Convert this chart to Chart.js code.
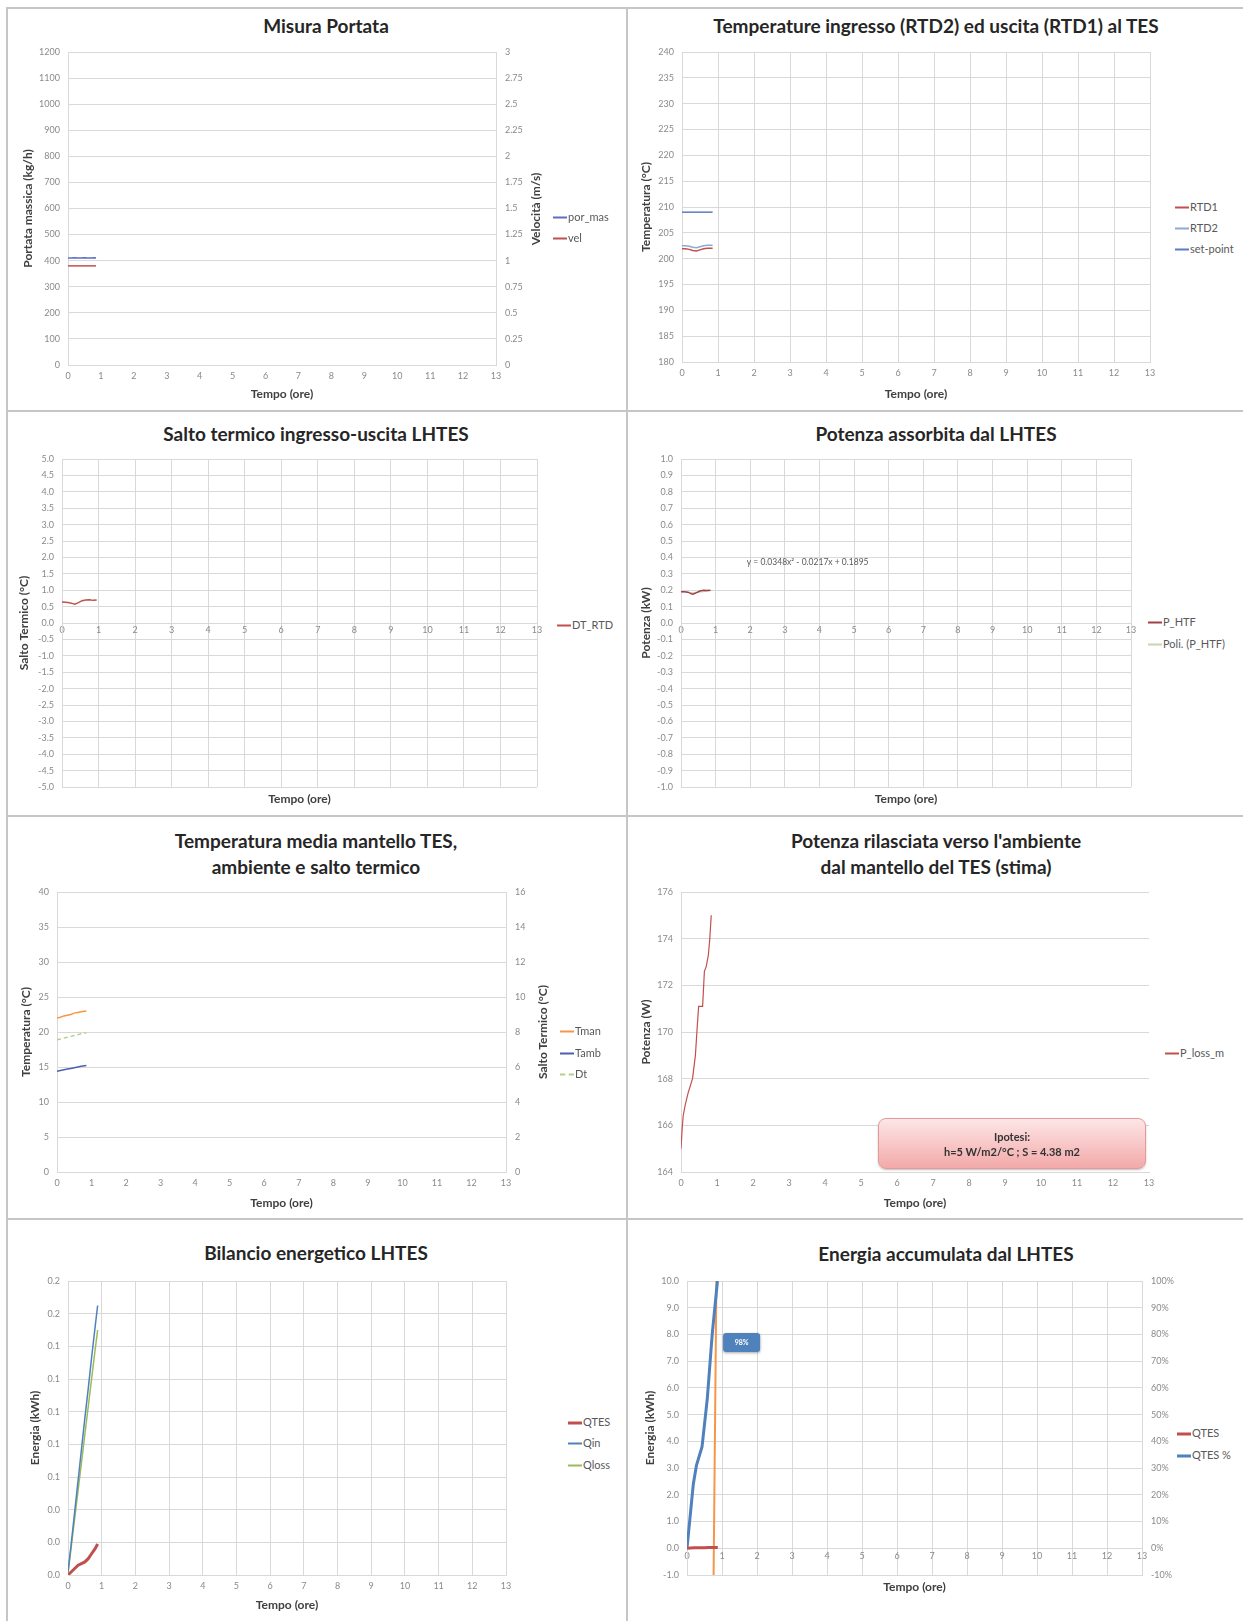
<!DOCTYPE html>
<html>
<head>
<meta charset="utf-8">
<script src="https://cdn.jsdelivr.net/npm/chart.js@4.4.1/dist/chart.umd.min.js"></script>
<style>
body { margin: 0; width: 1243px; height: 1621px; background: #fff; position: relative; overflow: hidden; font-family: Lato, "Liberation Sans", sans-serif; }
canvas { position: absolute; }
.t { position: absolute; transform: translate(-50%, -50%); font-weight: bold; font-size: 19px; color: #262626; white-space: nowrap; text-align: center; line-height: 26px; }
.leg { position: absolute; font-size: 11px; color: #595959; white-space: nowrap; line-height: 13px; transform: translateY(-50%); }
.leg i { display: inline-block; width: 14px; height: 0; vertical-align: middle; margin-right: 1px; }
.rt { position: absolute; font-size: 12px; font-weight: bold; color: #404040; white-space: nowrap; transform: translate(-50%, -50%) rotate(-90deg); }
.sep { position: absolute; background: #c6c6c6; }
.ipo { position: absolute; border: 1px solid #e39a9a; border-radius: 8px; background: linear-gradient(#fde6e6, #f3a9a9); box-shadow: 0 1px 2px rgba(0,0,0,0.25); font-size: 11px; font-weight: bold; color: #333; text-align: center; line-height: 15px; display: flex; flex-direction: column; justify-content: center; }
</style>
</head>
<body>
<script>
// Misura Portata
const tPortata = [0, 0.1, 0.2, 0.3, 0.4, 0.5, 0.6, 0.7, 0.8, 0.85];
const porMas = [410, 410, 411, 410, 410, 411, 410, 410, 411, 410];
const vel = [0.95, 0.95, 0.95, 0.95, 0.95, 0.95, 0.95, 0.95, 0.95, 0.95];

// Temperature ingresso / uscita
const tRtd = [0, 0.1, 0.2, 0.3, 0.4, 0.5, 0.6, 0.7, 0.8, 0.85];
const rtd1 = [201.9, 201.9, 201.8, 201.6, 201.5, 201.7, 201.9, 202.0, 202.0, 202.0];
const rtd2 = [202.5, 202.5, 202.4, 202.2, 202.1, 202.3, 202.5, 202.6, 202.6, 202.6];
const setPoint = [209, 209, 209, 209, 209, 209, 209, 209, 209, 209];

// Salto termico
const tDt = [0, 0.1, 0.2, 0.3, 0.35, 0.45, 0.55, 0.65, 0.75, 0.85, 0.95];
const dtRtd = [0.64, 0.63, 0.62, 0.59, 0.57, 0.62, 0.68, 0.70, 0.71, 0.69, 0.70];

// Potenza assorbita
const tPhtf = [0, 0.1, 0.2, 0.3, 0.35, 0.45, 0.55, 0.65, 0.75, 0.85];
const pHtf = [0.19, 0.19, 0.188, 0.178, 0.175, 0.185, 0.195, 0.2, 0.198, 0.2];
const tPoli = [0, 0.3, 0.6, 0.9];
const pPoli = [0.19, 0.186, 0.189, 0.199];
const equazione = 'y = 0.0348x² - 0.0217x + 0.1895';

// Temperatura mantello
const tMantello = [0, 0.1, 0.2, 0.3, 0.4, 0.5, 0.6, 0.7, 0.85];
const tMan = [22.0, 22.1, 22.3, 22.4, 22.5, 22.7, 22.8, 22.9, 23.0];
const tAmb = [14.4, 14.5, 14.6, 14.7, 14.8, 14.9, 15.0, 15.1, 15.2];
const dtMan = [7.55, 7.6, 7.65, 7.7, 7.75, 7.8, 7.85, 7.9, 7.95];

// Potenza rilasciata
const tLoss = [0, 0.03, 0.06, 0.12, 0.2, 0.32, 0.4, 0.45, 0.49, 0.6, 0.65, 0.7, 0.76, 0.8, 0.84];
const pLoss = [165.0, 165.8, 166.4, 166.9, 167.4, 168.0, 169.0, 170.2, 171.1, 171.1, 172.6, 172.8, 173.3, 174.0, 175.0];

// Bilancio energetico
const tBil = [0, 0.1, 0.2, 0.3, 0.4, 0.5, 0.6, 0.7, 0.8, 0.88];
const qTes = [0, 0.002, 0.004, 0.006, 0.007, 0.008, 0.010, 0.013, 0.016, 0.019];
const qIn = [0.002, 0.020, 0.039, 0.058, 0.077, 0.096, 0.114, 0.133, 0.151, 0.165];
const qLoss = [0.001, 0.018, 0.035, 0.052, 0.069, 0.086, 0.103, 0.120, 0.137, 0.150];

// Energia accumulata
const tAcc = [0, 0.1, 0.2, 0.3, 0.4, 0.5, 0.6, 0.7, 0.8, 0.88];
const qTesAcc = [0, 0.01, 0.02, 0.02, 0.02, 0.02, 0.03, 0.03, 0.03, 0.03];
const tPerc = [0, 0.18, 0.27, 0.43, 0.58, 0.72, 0.87];
const qTesPerc = [0, 24, 31, 38, 56, 80, 100];
const tMarker = [0.76, 0.84];
const markerKwh = [-1, 10];
const labelPerc = '98%';

const GRID = '#d9d9d9';
Chart.defaults.font.family = 'Lato, "Liberation Sans", sans-serif';
Chart.defaults.color = '#8a8a8a';

function pts(xs, ys) {
  return xs.map(function (x, i) { return {x: x, y: ys[i]}; });
}

function ds(label, xs, ys, color, width, extra) {
  return Object.assign({label: label, data: pts(xs, ys), borderColor: color, backgroundColor: color,
    borderWidth: width, pointRadius: 0, tension: 0, fill: false}, extra || {});
}

function axTitle(text) {
  return {display: true, text: text, color: '#404040', font: {size: 12, weight: 'bold'}, padding: {top: 4, bottom: 2}};
}

function xAxis(grid, title, pos) {
  return {type: 'linear', position: pos || 'bottom', min: 0, max: 13,
    ticks: {stepSize: 1, font: {size: 9}, padding: pos ? 2 : 6},
    grid: {display: grid, color: GRID, drawTicks: false},
    border: {color: GRID},
    title: title ? axTitle(title) : {display: false}};
}

function xTitleOnly(title) {
  return {type: 'linear', axis: 'x', position: 'bottom', min: 0, max: 13,
    ticks: {display: false}, grid: {display: false}, border: {display: false}, title: axTitle(title)};
}

function yAxis(pos, min, max, step, fmt, title) {
  return {type: 'linear', position: pos, min: min, max: max,
    ticks: {stepSize: step, font: {size: 9}, padding: pos === 'left' ? 8 : 9, callback: fmt},
    grid: {display: pos === 'left', color: GRID, drawTicks: false},
    border: {color: GRID},
    title: title ? axTitle(title) : {display: false}};
}

const notesPlugin = {
  id: 'notes',
  afterDatasetsDraw: function (chart, args, opts) {
    const ctx = chart.ctx;
    (opts.items || []).forEach(function (n) {
      const x = chart.scales[n.xAxis].getPixelForValue(n.x);
      const y = chart.scales[n.yAxis].getPixelForValue(n.y);
      ctx.save();
      if (n.fill) {
        ctx.shadowColor = 'rgba(0,0,0,0.35)';
        ctx.shadowBlur = 3;
        ctx.shadowOffsetY = 1;
        ctx.fillStyle = n.fill;
        ctx.beginPath();
        ctx.roundRect(x - n.w / 2, y - n.h / 2, n.w, n.h, 3);
        ctx.fill();
        ctx.shadowColor = 'transparent';
      }
      ctx.font = n.font;
      ctx.fillStyle = n.color;
      ctx.textAlign = n.align;
      ctx.textBaseline = 'middle';
      ctx.fillText(n.text, x, y);
      ctx.restore();
    });
  }
};

function addChart(box, plot, datasets, scales, notes) {
  const cv = document.createElement('canvas');
  cv.width = box[2] - box[0];
  cv.height = box[3] - box[1];
  cv.style.left = box[0] + 'px';
  cv.style.top = box[1] + 'px';
  document.body.appendChild(cv);
  let hasRight = false;
  Object.keys(scales).forEach(function (id) {
    const s = scales[id];
    let size = null, dim = 'width';
    if (s.position === 'left') size = plot.l - box[0];
    else if (s.position === 'right') { size = box[2] - plot.r; hasRight = true; }
    else if (s.position === 'bottom') { size = box[3] - plot.b; dim = 'height'; }
    s.afterFit = function (sc) {
      if (size !== null) sc[dim] = size;
      sc.paddingLeft = 0; sc.paddingRight = 0; sc.paddingTop = 0; sc.paddingBottom = 0;
    };
  });
  return new Chart(cv, {
    type: 'line',
    data: {datasets: datasets},
    options: {
      responsive: false,
      animation: false,
      layout: {autoPadding: false, padding: {top: plot.t - box[1], right: hasRight ? 0 : box[2] - plot.r, left: 0, bottom: 0}},
      scales: scales,
      plugins: {legend: {display: false}, tooltip: {enabled: false}, notes: {items: notes || []}}
    },
    plugins: [notesPlugin]
  });
}

function el(cls, css, html) {
  const d = document.createElement('div');
  d.className = cls;
  Object.assign(d.style, css);
  if (html !== undefined) d.innerHTML = html;
  document.body.appendChild(d);
  return d;
}

function title(text, x, y) {
  el('t', {left: x + 'px', top: y + 'px'}, text);
}

function rightTitle(text, x, y) {
  el('rt', {left: x + 'px', top: y + 'px'}).textContent = text;
}

function legend(chart, x, ys) {
  chart.data.datasets.forEach(function (d, i) {
    if (ys[i] === undefined) return;
    const row = el('leg', {left: x + 'px', top: ys[i] + 'px'});
    const mark = document.createElement('i');
    mark.style.borderTop = Math.max(2, d.borderWidth) + 'px ' + (d.borderDash ? 'dashed' : 'solid') + ' ' + d.borderColor;
    row.appendChild(mark);
    row.appendChild(document.createTextNode(d.label));
  });
}

// separators of the panel grid
[[6, 7, 1237, 2], [6, 7, 2, 1614], [6, 410, 1237, 2], [6, 815, 1237, 2], [6, 1218, 1237, 2], [626, 7, 2, 1614]]
  .forEach(function (r) {
    el('sep', {left: r[0] + 'px', top: r[1] + 'px', width: r[2] + 'px', height: r[3] + 'px'});
  });

const plain = function (v) { return String(+v.toFixed(2)); };
const dec1 = function (v) { return v.toFixed(1); };

// 1. Misura Portata
title('Misura Portata', 326, 26);
const cA = addChart([17, 44, 546, 403], {l: 68, r: 496, t: 52, b: 365}, [
  ds('por_mas', tPortata, porMas, '#5a6fc4', 1.5, {yAxisID: 'y'}),
  ds('vel', tPortata, vel, '#c0504d', 1.5, {yAxisID: 'y2'})
], {
  x: xAxis(false, 'Tempo (ore)'),
  y: yAxis('left', 0, 1200, 100, plain, 'Portata massica (kg/h)'),
  y2: yAxis('right', 0, 3, 0.25, plain)
});
rightTitle('Velocità (m/s)', 535, 209);
legend(cA, 553, [216, 237]);

// 2. Temperature RTD
title('Temperature ingresso (RTD2) ed uscita (RTD1) al TES', 936, 26);
const cB = addChart([635, 44, 1165, 403], {l: 682, r: 1150, t: 52, b: 362}, [
  ds('RTD1', tRtd, rtd1, '#c0504d', 1.5),
  ds('RTD2', tRtd, rtd2, '#8eaad6', 1.5),
  ds('set-point', tRtd, setPoint, '#5b7cc0', 1.5)
], {
  x: xAxis(true, 'Tempo (ore)'),
  y: yAxis('left', 180, 240, 5, plain, 'Temperatura (°C)')
});
legend(cB, 1175, [206, 227, 248]);

// 3. Salto termico
title('Salto termico ingresso-uscita LHTES', 316, 434);
const cC = addChart([13, 451, 552, 808], {l: 62, r: 537, t: 459, b: 787}, [
  ds('DT_RTD', tDt, dtRtd, '#c0504d', 1.5)
], {
  x: xAxis(true, null, {y: 0}),
  xb: xTitleOnly('Tempo (ore)'),
  y: yAxis('left', -5, 5, 0.5, dec1, 'Salto Termico (°C)')
});
legend(cC, 557, [624]);

// 4. Potenza assorbita
title('Potenza assorbita dal LHTES', 936, 434);
const cD = addChart([635, 451, 1146, 808], {l: 681, r: 1131, t: 459, b: 787}, [
  ds('P_HTF', tPhtf, pHtf, '#a0414a', 1.5),
  ds('Poli. (P_HTF)', tPoli, pPoli, '#c8d4b4', 1)
], {
  x: xAxis(true, null, {y: 0}),
  xb: xTitleOnly('Tempo (ore)'),
  y: yAxis('left', -1, 1, 0.1, dec1, 'Potenza (kW)')
}, [
  {xAxis: 'x', yAxis: 'y', x: 1.9, y: 0.37, text: equazione, font: '8.5px Lato', color: '#595959', align: 'left'}
]);
legend(cD, 1148, [621, 643]);

// 5. Temperatura media mantello
title('Temperatura media mantello TES,<br>ambiente e salto termico', 316, 854);
const cE = addChart([15, 884, 552, 1212], {l: 57, r: 506, t: 892, b: 1172}, [
  ds('Tman', tMantello, tMan, '#f79646', 1.5, {yAxisID: 'y'}),
  ds('Tamb', tMantello, tAmb, '#4f5fae', 1.5, {yAxisID: 'y'}),
  ds('Dt', tMantello, dtMan, '#b5d08c', 1.5, {yAxisID: 'y2', borderDash: [4, 3]})
], {
  x: xAxis(false, 'Tempo (ore)'),
  y: yAxis('left', 0, 40, 5, plain, 'Temperatura (°C)'),
  y2: yAxis('right', 0, 16, 2, plain)
});
rightTitle('Salto Termico (°C)', 542, 1032);
legend(cE, 560, [1030, 1052, 1073]);

// 6. Potenza rilasciata
title('Potenza rilasciata verso l\'ambiente<br>dal mantello del TES (stima)', 936, 854);
const cF = addChart([635, 884, 1160, 1212], {l: 681, r: 1149, t: 892, b: 1172}, [
  ds('P_loss_m', tLoss, pLoss, '#c0504d', 1.2)
], {
  x: xAxis(false, 'Tempo (ore)'),
  y: yAxis('left', 164, 176, 2, plain, 'Potenza (W)')
});
legend(cF, 1165, [1052]);
el('ipo', {left: '878px', top: '1118px', width: '266px', height: '49px'}, 'Ipotesi:<br>h=5 W/m2/°C ; S = 4.38 m2');

// 7. Bilancio energetico
title('Bilancio energetico LHTES', 316, 1253);
const cG = addChart([24, 1273, 530, 1614], {l: 68, r: 506, t: 1281, b: 1575}, [
  ds('QTES', tBil, qTes, '#c0504d', 3),
  ds('Qin', tBil, qIn, '#4f81bd', 1.5),
  ds('Qloss', tBil, qLoss, '#9bbb59', 1.5)
], {
  x: xAxis(true, 'Tempo (ore)'),
  y: yAxis('left', 0, 0.18, 0.02, dec1, 'Energia (kWh)')
});
legend(cG, 568, [1421, 1442, 1464]);

// 8. Energia accumulata
title('Energia accumulata dal LHTES', 946, 1254);
const cH = addChart([639, 1273, 1175, 1596], {l: 687, r: 1142, t: 1281, b: 1575}, [
  ds('QTES', tAcc, qTesAcc, '#c0504d', 3, {yAxisID: 'y'}),
  ds('QTES %', tPerc, qTesPerc, '#4f81bd', 3, {yAxisID: 'y2'}),
  ds('', tMarker, markerKwh, '#f79646', 2, {yAxisID: 'y'})
], {
  x: xAxis(true, null, {y: 0}),
  xb: xTitleOnly('Tempo (ore)'),
  y: yAxis('left', -1, 10, 1, dec1, 'Energia (kWh)'),
  y2: yAxis('right', -10, 100, 10, function (v) { return Math.round(v) + '%'; })
}, [
  {xAxis: 'x', yAxis: 'y2', x: 1.56, y: 77, text: labelPerc, font: 'bold 7px Lato', color: '#ffffff', align: 'center',
   fill: '#4f81bd', w: 37, h: 19}
]);
legend(cH, 1177, [1432, 1454]);
</script>
</body>
</html>
